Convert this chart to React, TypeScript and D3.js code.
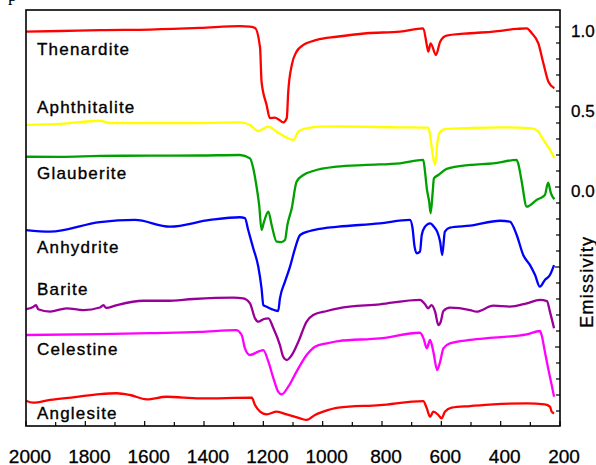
import React from "react";
import * as d3 from "d3";

type Pt = [number, number];

const thenardite: Pt[] = [
  [2000, 0.971], [1885, 0.975], [1751, 0.981], [1582, 0.984], [1413, 0.994], [1279, 1.006],
  [1245, 1.002], [1228, 0.994], [1211, 0.869], [1206, 0.658], [1189, 0.513], [1178, 0.431],
  [1161, 0.433], [1147, 0.42], [1133, 0.404], [1121, 0.431], [1116, 0.596], [1104, 0.763],
  [1088, 0.846], [1065, 0.888], [1020, 0.919], [953, 0.939], [852, 0.961], [739, 0.971],
  [661, 0.992], [649, 0.888], [644, 0.846], [636, 0.898], [618, 0.825], [604, 0.908],
  [582, 0.946], [503, 0.961], [425, 0.971], [346, 0.988], [312, 0.992], [295, 0.961],
  [273, 0.898], [256, 0.773], [239, 0.658], [219, 0.617],
];

const aphthitalite: Pt[] = [
  [2000, 0.388], [1885, 0.394], [1751, 0.414], [1717, 0.4], [1582, 0.4], [1413, 0.4],
  [1279, 0.404], [1245, 0.388], [1217, 0.35], [1183, 0.377], [1155, 0.346], [1121, 0.308],
  [1099, 0.294], [1082, 0.346], [1054, 0.367], [1009, 0.377], [953, 0.378], [739, 0.373],
  [644, 0.371], [638, 0.325], [629, 0.2], [621, 0.138], [613, 0.283], [604, 0.346],
  [582, 0.363], [402, 0.373], [295, 0.367], [273, 0.346], [256, 0.294], [233, 0.231], [219, 0.179],
];

const glauberite: Pt[] = [
  [2000, 0.189], [1885, 0.188], [1751, 0.194], [1582, 0.196], [1413, 0.197], [1279, 0.2],
  [1245, 0.179], [1234, 0.117], [1222, -0.008], [1214, -0.113], [1206, -0.269], [1198, -0.219],
  [1183, -0.154], [1172, -0.238], [1155, -0.342], [1140, -0.344], [1127, -0.331], [1119, -0.238],
  [1104, -0.131], [1088, 0.033], [1065, 0.075], [1032, 0.1], [953, 0.127], [852, 0.138],
  [739, 0.148], [661, 0.169], [655, 0.096], [649, -0.008], [641, -0.092], [636, -0.164],
  [629, -0.029], [625, 0.054], [610, 0.075], [582, 0.113], [503, 0.138], [425, 0.148],
  [346, 0.169], [341, 0.148], [330, 0.044], [312, -0.123], [279, -0.081], [251, -0.05],
  [240, 0.027], [231, -0.036], [219, -0.077],
];

const anhydrite: Pt[] = [
  [2000, -0.269], [1919, -0.279], [1751, -0.219], [1633, -0.206], [1515, -0.248], [1380, -0.206],
  [1279, -0.189], [1262, -0.194], [1251, -0.269], [1234, -0.383], [1217, -0.498], [1206, -0.633],
  [1200, -0.738], [1189, -0.748], [1172, -0.763], [1150, -0.775], [1144, -0.696], [1127, -0.592],
  [1110, -0.498], [1093, -0.383], [1076, -0.3], [1043, -0.275], [998, -0.258], [947, -0.248],
  [807, -0.227], [706, -0.206], [697, -0.258], [691, -0.363], [683, -0.414], [672, -0.404],
  [666, -0.3], [655, -0.248], [638, -0.227], [625, -0.248], [614, -0.279], [604, -0.342],
  [597, -0.425], [588, -0.279], [571, -0.254], [503, -0.242], [402, -0.211], [369, -0.217],
  [346, -0.3], [324, -0.425], [301, -0.488], [284, -0.55], [268, -0.623], [251, -0.581],
  [234, -0.55], [220, -0.488],
];

const barite: Pt[] = [
  [2000, -0.764], [1976, -0.75], [1966, -0.738], [1959, -0.764], [1919, -0.779], [1863, -0.758],
  [1807, -0.769], [1751, -0.753], [1739, -0.738], [1730, -0.756], [1694, -0.738], [1605, -0.711],
  [1526, -0.711], [1436, -0.7], [1301, -0.692], [1268, -0.696], [1245, -0.727], [1228, -0.821],
  [1217, -0.842], [1198, -0.825], [1183, -0.821], [1166, -0.883], [1144, -0.988], [1133, -1.061],
  [1121, -1.081], [1104, -1.05], [1082, -0.967], [1054, -0.842], [1032, -0.8], [986, -0.775],
  [947, -0.758], [807, -0.733], [672, -0.706], [655, -0.733], [644, -0.758], [633, -0.738],
  [621, -0.779], [610, -0.863], [602, -0.842], [593, -0.775], [571, -0.754], [503, -0.769],
  [481, -0.779], [425, -0.742], [369, -0.748], [312, -0.727], [268, -0.706], [244, -0.713],
  [234, -0.779], [220, -0.883],
];

const celestine: Pt[] = [
  [2000, -0.925], [1751, -0.919], [1582, -0.913], [1413, -0.906], [1292, -0.894], [1273, -0.925],
  [1262, -1.008], [1245, -1.05], [1217, -1.029], [1200, -1.019], [1183, -1.092], [1166, -1.196],
  [1150, -1.279], [1138, -1.296], [1116, -1.248], [1088, -1.154], [1054, -1.05], [1026, -0.998],
  [986, -0.977], [947, -0.963], [807, -0.946], [672, -0.911], [660, -0.946], [649, -1.008],
  [638, -0.956], [627, -1.029], [614, -1.144], [604, -1.092], [593, -1.008], [571, -0.977],
  [503, -0.956], [425, -0.942], [312, -0.921], [268, -0.9], [262, -0.925], [251, -1.029],
  [240, -1.133], [228, -1.238], [220, -1.311],
];

const anglesite: Pt[] = [
  [2000, -1.336], [1976, -1.348], [1919, -1.331], [1835, -1.313], [1751, -1.294], [1694, -1.289],
  [1649, -1.3], [1593, -1.327], [1526, -1.311], [1413, -1.321], [1239, -1.317], [1228, -1.363],
  [1211, -1.404], [1189, -1.421], [1155, -1.404], [1121, -1.421], [1076, -1.446], [1054, -1.456],
  [1026, -1.425], [998, -1.404], [947, -1.379], [807, -1.363], [661, -1.338], [649, -1.383],
  [638, -1.436], [627, -1.404], [610, -1.425], [599, -1.446], [588, -1.404], [565, -1.379],
  [503, -1.369], [425, -1.358], [312, -1.352], [251, -1.358], [234, -1.373], [228, -1.404],
  [220, -1.415],
];

const seriesNames = ["Thenardite", "Aphthitalite", "Glauberite", "Anhydrite", "Barite", "Celestine", "Anglesite"];
const seriesData = [thenardite, aphthitalite, glauberite, anhydrite, barite, celestine, anglesite];
const seriesColors = ["#ff0000", "#ffff00", "#00a000", "#0000ff", "#990099", "#ff00ff", "#ff0000"];
// label baseline positions in data units (emissivity axis)
const labelValues = [0.824, 0.462, 0.05, -0.41, -0.675, -1.05, -1.45];

const xTicks = [2000, 1800, 1600, 1400, 1200, 1000, 800, 600, 400, 200];
const yTickLabels = [1.0, 0.5, 0.0];

export default function App() {
  const W = 596, H = 465;
  const left = 26, right = 560, top = 10, bottom = 426;
  const x = d3.scaleLinear().domain([2000, 200]).range([left, right]);
  const y = d3.scaleLinear().domain([0, 1]).range([187, 27]);
  const line = d3.line<Pt>().x(d => x(d[0])).y(d => y(d[1])).curve(d3.curveMonotoneX);
  const minorX = d3.range(2000, 199, -100);
  const minorY = d3.range(-14, 11).map(i => i / 10);
  const font = "'Liberation Sans', Arial, sans-serif";

  return (
    <svg width={W} height={H} style={{ position: "absolute", left: 0, top: 0, background: "#fff" }}>
      <text x={8} y={1} fontFamily="'Liberation Serif', serif" fontSize={18} fill="#000">p</text>
      {seriesData.map((d, i) => (
        <path key={i} d={line(d) || ""} fill="none" stroke={seriesColors[i]} strokeWidth={2.3} strokeLinejoin="round" />
      ))}
      {seriesNames.map((n, i) => (
        <text key={n} x={37} y={y(labelValues[i])} fontFamily={font} fontSize={17} letterSpacing={1.2} fill="#000" stroke="#000" strokeWidth={0.35}>{n}</text>
      ))}
      <rect x={left} y={top} width={right - left} height={bottom - top} fill="none" stroke="#000" strokeWidth={1.6} />
      {minorX.map(t => (
        <line key={"xt" + t} x1={x(t)} x2={x(t)} y1={bottom} y2={bottom - (t % 200 === 0 ? 5 : 4)} stroke="#000" strokeWidth={1.2} />
      ))}
      {minorY.map(t => (
        <line key={"yt" + t} x1={right} x2={right - (Math.abs((t * 10) % 5) < 1e-6 ? 5 : 4)} y1={y(t)} y2={y(t)} stroke="#000" strokeWidth={1.2} />
      ))}
      {xTicks.map(t => (
        <text key={"xl" + t} x={x(t) + 4} y={463} textAnchor="middle" fontFamily={font} fontSize={19} fill="#000" stroke="#000" strokeWidth={0.3}>{t}</text>
      ))}
      {yTickLabels.map(t => (
        <text key={"yl" + t} x={571} y={y(t) + 10} fontFamily={font} fontSize={17} fill="#000" stroke="#000" strokeWidth={0.3}>{t.toFixed(1)}</text>
      ))}
      <text transform="translate(592.5,281.7) rotate(-90)" textAnchor="middle" fontFamily={font} fontSize={18} letterSpacing={1.2} fill="#000" stroke="#000" strokeWidth={0.3}>Emissivity</text>
    </svg>
  );
}
